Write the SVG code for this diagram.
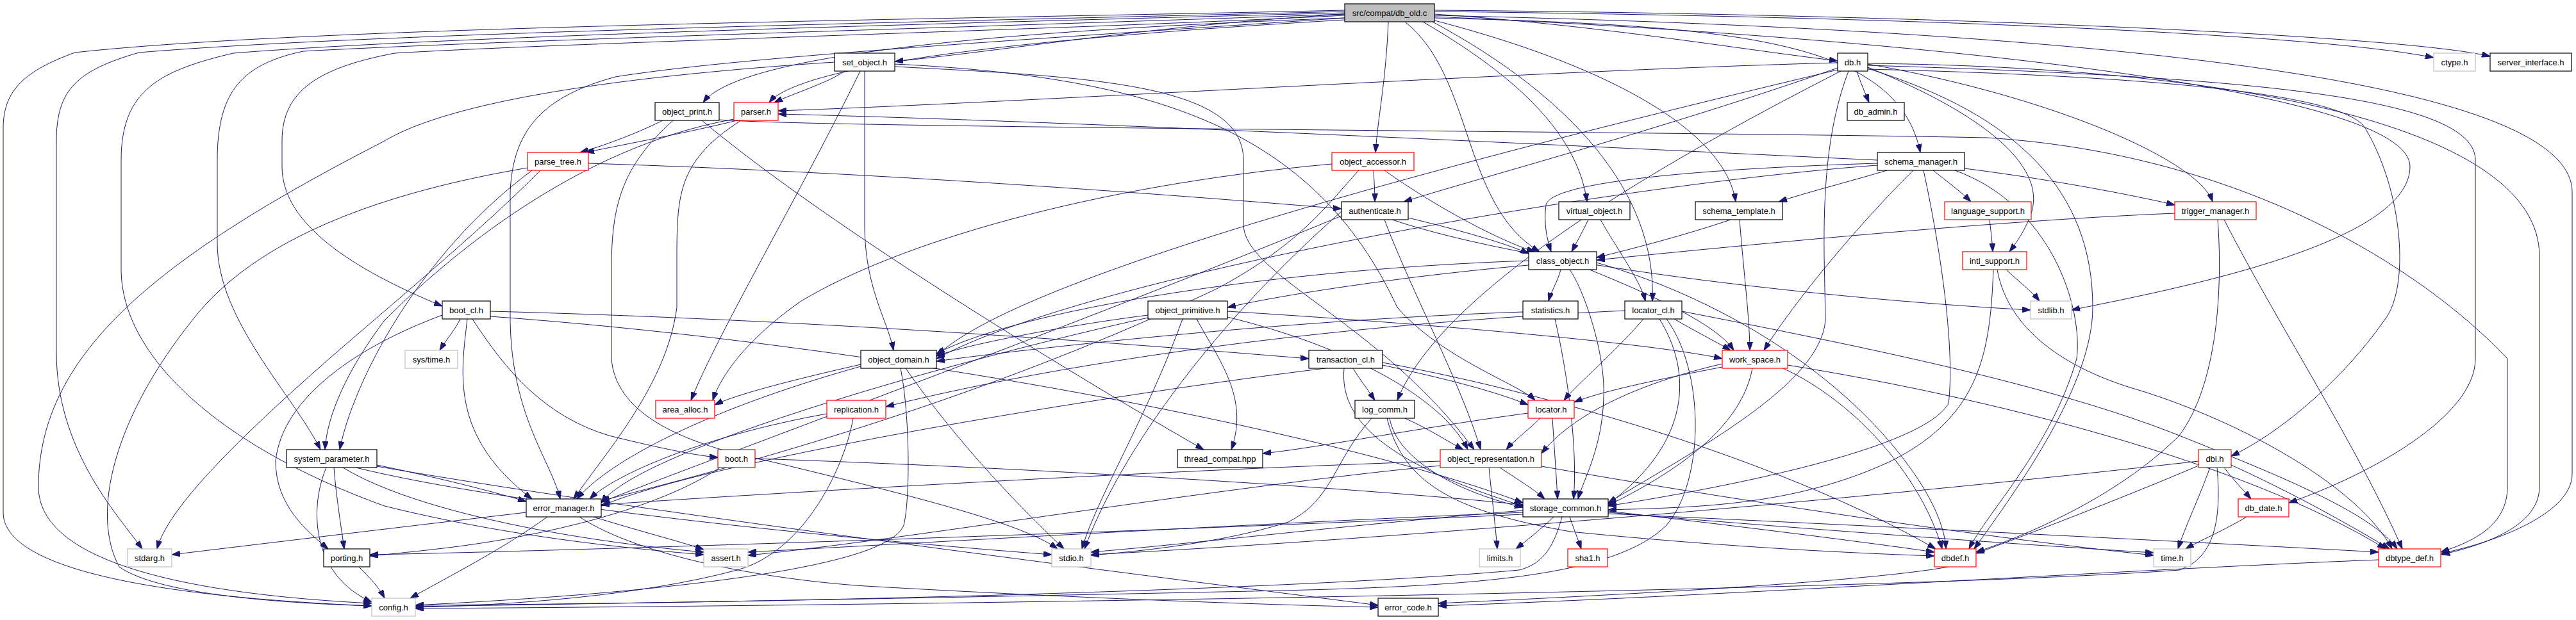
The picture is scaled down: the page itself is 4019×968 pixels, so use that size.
<svg xmlns="http://www.w3.org/2000/svg" width="4019" height="968" viewBox="0 0 4019 968">
<defs>
<style>
.n rect{fill:#fff;stroke:#000;stroke-width:1.2}
.r rect{stroke:#ff0000}
.g rect{stroke:#bfbfbf}
.n text{font-family:"Liberation Sans",Arial,sans-serif;font-size:13px;text-anchor:middle;fill:#000}
#edges path{fill:none;stroke:#191970;stroke-width:1;marker-end:url(#a)}
</style>
<marker id="a" markerWidth="13" markerHeight="9" refX="13" refY="4.5" orient="auto" markerUnits="userSpaceOnUse"><path d="M0,0 L13,4.5 L0,9 z" fill="#191970" stroke="#191970" stroke-width="1"/></marker>
</defs>
<rect width="4019" height="968" fill="#fff"/>
<g id="edges">
<path d="M2098,22 C1800,40 1600,75 1396,96"/>
<path d="M2238,22 C2500,40 2700,75 2867,95"/>
<path d="M2238,18 C2900,25 3600,50 3797,90"/>
<path d="M2238,16 C3000,22 3750,55 3885,88"/>
<path d="M2098,28 C1500,50 1150,90 1097,160"/>
<path d="M2098,31 C1600,60 1250,100 1200,160"/>
<path d="M2166,34 C2162,130 2150,180 2146,238"/>
<path d="M2192,34 C2300,120 2280,320 2402,393"/>
<path d="M2220,34 C2350,110 2460,200 2476,315"/>
<path d="M2235,34 C2450,150 2585,300 2578,470"/>
<path d="M2238,28 C2700,40 2960,60 2996,238"/>
<path d="M2238,32 C2500,100 2690,200 2708,315"/>
<path d="M2238,26 C3000,60 3760,140 3760,260 C3760,380 3400,450 3232,484"/>
<path d="M2238,24 C3400,50 4013,140 4013,300 L4013,740 C4013,800 3900,845 3809,864"/>
<path d="M2098,16 C1500,30 500,40 117,82 C40,110 5,140 5,200 L5,800 C5,880 200,930 580,946"/>
<path d="M2098,18 C1500,33 600,50 217,82 C120,110 88,140 88,220 L88,550 C88,700 180,800 222,857"/>
<path d="M2098,20 C1500,36 700,56 364,83 C250,110 189,140 189,250 L189,420 C189,560 350,700 600,790 C800,840 1000,858 1098,866"/>
<path d="M2098,22 C1600,40 800,62 473,80 C380,100 339,140 339,250 L339,380 C339,500 460,620 500,702"/>
<path d="M2098,24 C1700,45 900,66 616,83 C500,105 440,140 440,220 L440,260 C440,350 550,420 690,478"/>
<path d="M2098,28 C1600,62 1160,88 960,120 C850,150 800,200 796,300 L796,500 C798,650 860,720 874,779"/>
<path d="M1318,111 C1290,130 1240,145 1208,160"/>
<path d="M1302,97 C950,120 700,160 600,220 C250,400 60,550 60,760 C60,880 300,928 580,942"/>
<path d="M1349,111 L1349,350 C1349,450 1385,500 1394,547"/>
<path d="M1342,111 C1250,300 1120,520 1078,625"/>
<path d="M1396,100 C1800,120 2050,200 2180,480 C2250,560 2370,600 2395,625"/>
<path d="M1396,104 C1700,120 1940,130 1940,250 L1940,350 C1940,430 2150,500 2300,702"/>
<path d="M2897,111 C2903,130 2910,145 2916,160"/>
<path d="M2867,98 C2400,110 1600,160 1214,173"/>
<path d="M2867,106 C2600,200 2300,280 2190,315"/>
<path d="M2867,109 C2400,220 1600,420 1461,556"/>
<path d="M2872,111 C2600,250 2250,450 2180,625"/>
<path d="M2914,100 C3200,150 3430,250 3452,315"/>
<path d="M2914,105 C3100,180 3190,260 3170,330 C3160,360 3145,380 3135,393"/>
<path d="M2914,108 C3400,120 3660,150 3690,200 C3750,300 3760,450 3720,500 C3650,600 3550,680 3481,712"/>
<path d="M2914,102 C3500,120 3862,150 3862,250 L3862,560 C3862,650 3700,740 3571,785"/>
<path d="M2914,99 C3500,105 3962,200 3962,400 L3962,760 C3962,820 3880,850 3809,866"/>
<path d="M2884,111 C2850,200 2845,300 2846,400 L2848,500 C2840,600 2650,700 2509,785"/>
<path d="M2914,107 C3150,180 3265,300 3265,480 C3265,600 3150,760 3080,857"/>
<path d="M2944,266 C2880,285 2820,300 2775,315"/>
<path d="M2929,255 C2700,262 2420,280 2412,320 C2408,350 2414,375 2420,393"/>
<path d="M3016,266 C3040,285 3060,300 3075,315"/>
<path d="M3065,263 C3200,280 3330,305 3393,320"/>
<path d="M2985,266 C2900,350 2800,470 2752,547"/>
<path d="M3001,266 C3030,400 3050,550 3040,630 C3000,700 2700,760 2509,790"/>
<path d="M3050,266 C3200,320 3250,480 3240,560 C3200,700 3100,800 3072,857"/>
<path d="M2929,258 C2500,290 1700,430 1461,560"/>
<path d="M2929,250 C2500,230 1700,190 1214,178"/>
<path d="M2700,343 C2620,370 2540,390 2491,402"/>
<path d="M2714,343 C2720,420 2730,500 2730,547"/>
<path d="M3104,343 C3106,360 3108,375 3109,393"/>
<path d="M3393,333 C3100,345 2700,385 2491,406"/>
<path d="M3460,343 C3468,450 3460,600 3400,680 C3300,780 3150,840 3083,862"/>
<path d="M3470,343 C3550,500 3680,700 3748,857"/>
<path d="M2435,421 C2430,440 2420,455 2416,470"/>
<path d="M2385,414 C2200,430 2000,460 1915,480"/>
<path d="M2385,407 C2000,420 1600,480 1461,552"/>
<path d="M2449,421 C2470,450 2505,550 2502,620 C2500,700 2470,750 2462,779"/>
<path d="M2491,410 C2700,470 2900,600 3000,760 C3030,810 3035,840 3036,857"/>
<path d="M2480,421 C2600,470 2680,510 2705,547"/>
<path d="M3130,421 C3150,440 3170,455 3182,470"/>
<path d="M3116,421 C3130,500 3200,570 3340,610 C3500,660 3680,760 3732,857"/>
<path d="M3110,421 C3105,550 3090,650 2950,720 C2800,790 2650,792 2509,796"/>
<path d="M718,498 C710,515 695,532 686,547"/>
<path d="M729,498 C720,580 700,680 830,779"/>
<path d="M737,498 C790,580 850,650 950,680 C1030,700 1090,712 1120,714"/>
<path d="M765,486 C1300,500 1800,540 2042,560"/>
<path d="M690,492 C560,540 440,620 430,720 C430,790 480,830 512,857"/>
<path d="M765,494 C1400,540 2100,680 2376,785"/>
<path d="M1791,492 C1650,510 1500,540 1461,556"/>
<path d="M1867,498 C1900,560 1950,620 1921,702"/>
<path d="M1845,498 C1790,650 1710,780 1688,857"/>
<path d="M1791,496 C1500,560 1000,700 938,785"/>
<path d="M1915,486 C2300,510 2600,540 2687,560"/>
<path d="M1915,495 C2100,540 2250,620 2290,702"/>
<path d="M2376,487 C2000,500 1600,545 1461,564"/>
<path d="M2426,498 C2445,580 2462,700 2455,779"/>
<path d="M2564,498 C2520,550 2460,600 2440,625"/>
<path d="M2589,498 C2640,580 2640,690 2509,787"/>
<path d="M2600,498 C2660,580 2660,750 2600,820 C2520,900 2300,915 2000,922 C1400,935 900,943 648,947"/>
<path d="M2612,498 C2650,520 2680,535 2700,547"/>
<path d="M2624,486 C2900,540 3200,600 3400,680 C3550,740 3700,800 3740,857"/>
<path d="M2535,485 C2000,510 1600,580 1382,635"/>
<path d="M2111,575 C2120,590 2135,610 2145,625"/>
<path d="M2157,570 C2250,590 2330,610 2384,632"/>
<path d="M2157,566 C2450,620 2800,730 3020,857"/>
<path d="M2097,575 C2090,650 2150,720 2376,790"/>
<path d="M2068,575 C1700,620 1100,720 938,790"/>
<path d="M2687,573 C2600,590 2500,610 2456,628"/>
<path d="M2734,575 C2720,650 2650,720 2509,789"/>
<path d="M2782,575 C2900,630 3000,750 3030,857"/>
<path d="M2789,570 C3100,620 3500,720 3722,857"/>
<path d="M2687,568 C2550,600 2450,650 2405,708"/>
<path d="M1290,646 C1100,680 960,740 920,779"/>
<path d="M1331,653 C1320,720 1260,860 1150,890 C1000,930 800,945 648,948"/>
<path d="M2192,653 C2230,670 2260,690 2283,702"/>
<path d="M2168,653 C2180,720 2280,770 2376,792"/>
<path d="M2140,653 C2080,720 2080,780 2010,815 C1900,850 1760,862 1702,867"/>
<path d="M2164,653 C2190,760 2280,800 2450,830 C2700,855 2900,864 3018,868"/>
<path d="M2403,653 C2380,675 2360,690 2350,702"/>
<path d="M2422,653 C2425,700 2428,740 2430,779"/>
<path d="M2384,645 C2200,670 2050,700 1970,708"/>
<path d="M509,730 C480,800 490,900 580,940"/>
<path d="M521,730 C525,780 532,820 537,857"/>
<path d="M535,730 C650,800 900,845 1098,862"/>
<path d="M555,730 C800,790 1300,840 1641,866"/>
<path d="M588,726 C680,745 760,765 821,783"/>
<path d="M588,728 C1000,800 1800,900 2150,945"/>
<path d="M1178,716 C1600,730 2100,760 2376,788"/>
<path d="M1123,730 C1050,780 900,830 700,855 C640,862 600,866 577,868"/>
<path d="M2247,720 C1800,735 1200,770 938,788"/>
<path d="M2340,730 C2370,750 2395,765 2410,779"/>
<path d="M2323,730 C2328,780 2333,820 2336,857"/>
<path d="M2247,727 C1900,760 1400,845 1167,867"/>
<path d="M2405,728 C2700,780 3100,840 3360,867"/>
<path d="M3470,730 C3485,750 3500,765 3512,779"/>
<path d="M3448,730 C3430,780 3410,820 3398,857"/>
<path d="M3481,726 C3600,780 3700,840 3728,857"/>
<path d="M3430,727 C3330,770 3150,840 3083,864"/>
<path d="M3430,720 C2900,780 2200,840 1702,866"/>
<path d="M3459,730 C3465,800 3460,870 3400,890 C3000,920 1500,945 648,950"/>
<path d="M821,800 C650,820 400,850 268,866"/>
<path d="M854,807 C780,860 700,900 640,934"/>
<path d="M926,807 C1000,830 1060,845 1098,858"/>
<path d="M904,807 C1000,870 1200,905 1350,915 C1700,935 2000,945 2150,948"/>
<path d="M2424,807 C2400,830 2380,845 2365,857"/>
<path d="M2449,807 C2455,825 2462,842 2467,857"/>
<path d="M2437,807 C2425,850 2410,880 2370,890 C2100,915 1400,940 648,945"/>
<path d="M2376,797 C2100,820 1850,850 1702,862"/>
<path d="M2376,800 C1900,820 1400,850 1167,862"/>
<path d="M2376,803 C1800,830 900,860 577,866"/>
<path d="M2509,798 C2700,820 2900,845 3018,862"/>
<path d="M2509,800 C2800,825 3150,850 3360,863"/>
<path d="M2509,802 C2900,820 3400,845 3711,862"/>
<path d="M3505,807 C3470,828 3430,845 3410,857"/>
<path d="M3711,874 C3300,890 2700,930 2244,946"/>
<path d="M3040,885 C2900,910 2500,930 2244,942"/>
<path d="M560,885 C575,900 590,915 600,934"/>
<path d="M1343,569 C1250,590 1150,615 1115,632"/>
<path d="M1413,575 C1500,700 1600,800 1660,857"/>
<path d="M1405,575 C1420,650 1420,780 1410,820 C1390,870 1200,900 1000,920 C850,935 700,942 648,945"/>
<path d="M1343,572 C1100,640 950,720 900,779"/>
<path d="M918,255 C1400,270 1900,310 2093,326"/>
<path d="M843,266 C780,330 700,400 560,520 C350,700 260,800 245,857"/>
<path d="M830,266 C650,400 550,600 530,702"/>
<path d="M823,262 C600,300 400,370 300,500 C180,650 140,800 186,885 C250,930 450,942 580,946"/>
<path d="M1150,188 C1060,210 960,228 914,238"/>
<path d="M1145,186 C900,230 700,400 600,500 C540,580 510,650 507,702"/>
<path d="M1156,188 C1060,250 1056,300 1056,400 L1056,480 C1040,600 950,700 895,779"/>
<path d="M1034,188 C990,210 940,228 905,238"/>
<path d="M1050,188 C970,260 954,320 954,420 L954,560 C960,640 1050,690 1200,720 C1450,780 1600,820 1650,857"/>
<path d="M1095,188 C1300,360 1700,600 1878,702"/>
<path d="M1122,187 C1300,200 2600,205 3100,215 C3500,240 3780,420 3912,560 L3912,760 C3912,820 3860,845 3808,862"/>
<path d="M2143,266 C2144,285 2145,300 2145,315"/>
<path d="M2160,266 C2250,330 2350,380 2395,393"/>
<path d="M2120,266 C2070,320 2030,380 1900,450 C1500,640 1100,740 938,782"/>
<path d="M2078,256 C1700,290 1400,380 1250,470 C1150,540 1120,600 1112,625"/>
<path d="M2197,340 C2280,360 2350,380 2385,396"/>
<path d="M2172,343 C2400,420 2900,470 3168,484"/>
<path d="M2160,343 C2200,450 2280,600 2310,702"/>
<path d="M2093,337 C1700,500 1100,720 938,784"/>
<path d="M2093,330 C1900,500 1750,700 1692,857"/>
<path d="M2478,343 C2470,360 2460,378 2452,393"/>
<path d="M2497,343 C2530,400 2560,440 2567,470"/>
</g>
<g id="n_root" class="n"><rect x="2098" y="6" width="140" height="28" style="fill:#bfbfbf"/><text x="2168" y="25">src/compat/db_old.c</text></g>
<g id="n_set_object" class="n"><rect x="1302" y="83" width="94" height="28"/><text x="1349" y="102">set_object.h</text></g>
<g id="n_db" class="n"><rect x="2867" y="83" width="47" height="28"/><text x="2890.5" y="102">db.h</text></g>
<g id="n_ctype" class="n g"><rect x="3797" y="83" width="65" height="28"/><text x="3829.5" y="102">ctype.h</text></g>
<g id="n_server_interface" class="n"><rect x="3885" y="83" width="127" height="28"/><text x="3948.5" y="102">server_interface.h</text></g>
<g id="n_object_print" class="n"><rect x="1022" y="160" width="100" height="28"/><text x="1072" y="179">object_print.h</text></g>
<g id="n_parser" class="n r"><rect x="1145" y="160" width="69" height="28"/><text x="1179.5" y="179">parser.h</text></g>
<g id="n_db_admin" class="n"><rect x="2882" y="160" width="89" height="28"/><text x="2926.5" y="179">db_admin.h</text></g>
<g id="n_parse_tree" class="n r"><rect x="823" y="238" width="95" height="28"/><text x="870.5" y="257">parse_tree.h</text></g>
<g id="n_object_accessor" class="n r"><rect x="2078" y="238" width="128" height="28"/><text x="2142" y="257">object_accessor.h</text></g>
<g id="n_schema_manager" class="n"><rect x="2929" y="238" width="136" height="28"/><text x="2997" y="257">schema_manager.h</text></g>
<g id="n_authenticate" class="n"><rect x="2093" y="315" width="104" height="28"/><text x="2145" y="334">authenticate.h</text></g>
<g id="n_virtual_object" class="n"><rect x="2432" y="315" width="111" height="28"/><text x="2487.5" y="334">virtual_object.h</text></g>
<g id="n_schema_template" class="n"><rect x="2645" y="315" width="136" height="28"/><text x="2713" y="334">schema_template.h</text></g>
<g id="n_language_support" class="n r"><rect x="3034" y="315" width="135" height="28"/><text x="3101.5" y="334">language_support.h</text></g>
<g id="n_trigger_manager" class="n r"><rect x="3393" y="315" width="127" height="28"/><text x="3456.5" y="334">trigger_manager.h</text></g>
<g id="n_class_object" class="n"><rect x="2385" y="393" width="106" height="28"/><text x="2438" y="412">class_object.h</text></g>
<g id="n_intl_support" class="n r"><rect x="3062" y="393" width="100" height="28"/><text x="3112" y="412">intl_support.h</text></g>
<g id="n_boot_cl" class="n"><rect x="690" y="470" width="75" height="28"/><text x="727.5" y="489">boot_cl.h</text></g>
<g id="n_object_primitive" class="n"><rect x="1791" y="470" width="124" height="28"/><text x="1853" y="489">object_primitive.h</text></g>
<g id="n_statistics" class="n"><rect x="2376" y="470" width="86" height="28"/><text x="2419" y="489">statistics.h</text></g>
<g id="n_locator_cl" class="n"><rect x="2535" y="470" width="89" height="28"/><text x="2579.5" y="489">locator_cl.h</text></g>
<g id="n_stdlib" class="n g"><rect x="3168" y="470" width="64" height="28"/><text x="3200" y="489">stdlib.h</text></g>
<g id="n_sys_time" class="n g"><rect x="632" y="547" width="82" height="28"/><text x="673" y="566">sys/time.h</text></g>
<g id="n_object_domain" class="n"><rect x="1343" y="547" width="118" height="28"/><text x="1402" y="566">object_domain.h</text></g>
<g id="n_transaction_cl" class="n"><rect x="2042" y="547" width="115" height="28"/><text x="2099.5" y="566">transaction_cl.h</text></g>
<g id="n_work_space" class="n r"><rect x="2687" y="547" width="102" height="28"/><text x="2738" y="566">work_space.h</text></g>
<g id="n_area_alloc" class="n r"><rect x="1023" y="625" width="92" height="28"/><text x="1069" y="644">area_alloc.h</text></g>
<g id="n_replication" class="n r"><rect x="1290" y="625" width="92" height="28"/><text x="1336" y="644">replication.h</text></g>
<g id="n_log_comm" class="n"><rect x="2114" y="625" width="93" height="28"/><text x="2160.5" y="644">log_comm.h</text></g>
<g id="n_locator" class="n r"><rect x="2384" y="625" width="72" height="28"/><text x="2420" y="644">locator.h</text></g>
<g id="n_system_parameter" class="n"><rect x="447" y="702" width="141" height="28"/><text x="517.5" y="721">system_parameter.h</text></g>
<g id="n_boot" class="n r"><rect x="1120" y="702" width="58" height="28"/><text x="1149" y="721">boot.h</text></g>
<g id="n_thread_compat" class="n"><rect x="1837" y="702" width="133" height="28"/><text x="1903.5" y="721">thread_compat.hpp</text></g>
<g id="n_object_representation" class="n r"><rect x="2247" y="702" width="158" height="28"/><text x="2326" y="721">object_representation.h</text></g>
<g id="n_dbi" class="n r"><rect x="3430" y="702" width="51" height="28"/><text x="3455.5" y="721">dbi.h</text></g>
<g id="n_error_manager" class="n"><rect x="821" y="779" width="117" height="28"/><text x="879.5" y="798">error_manager.h</text></g>
<g id="n_storage_common" class="n"><rect x="2376" y="779" width="133" height="28"/><text x="2442.5" y="798">storage_common.h</text></g>
<g id="n_db_date" class="n r"><rect x="3492" y="779" width="79" height="28"/><text x="3531.5" y="798">db_date.h</text></g>
<g id="n_stdarg" class="n g"><rect x="199" y="857" width="69" height="28"/><text x="233.5" y="876">stdarg.h</text></g>
<g id="n_porting" class="n"><rect x="505" y="857" width="72" height="28"/><text x="541" y="876">porting.h</text></g>
<g id="n_assert" class="n g"><rect x="1098" y="857" width="69" height="28"/><text x="1132.5" y="876">assert.h</text></g>
<g id="n_stdio" class="n g"><rect x="1641" y="857" width="61" height="28"/><text x="1671.5" y="876">stdio.h</text></g>
<g id="n_limits" class="n g"><rect x="2308" y="857" width="64" height="28"/><text x="2340" y="876">limits.h</text></g>
<g id="n_sha1" class="n r"><rect x="2446" y="857" width="62" height="28"/><text x="2477" y="876">sha1.h</text></g>
<g id="n_dbdef" class="n r"><rect x="3018" y="857" width="65" height="28"/><text x="3050.5" y="876">dbdef.h</text></g>
<g id="n_time" class="n g"><rect x="3360" y="857" width="58" height="28"/><text x="3389" y="876">time.h</text></g>
<g id="n_dbtype_def" class="n r"><rect x="3711" y="857" width="97" height="28"/><text x="3759.5" y="876">dbtype_def.h</text></g>
<g id="n_config" class="n g"><rect x="580" y="934" width="68" height="28"/><text x="614" y="953">config.h</text></g>
<g id="n_error_code" class="n"><rect x="2150" y="934" width="94" height="28"/><text x="2197" y="953">error_code.h</text></g>
</svg>
